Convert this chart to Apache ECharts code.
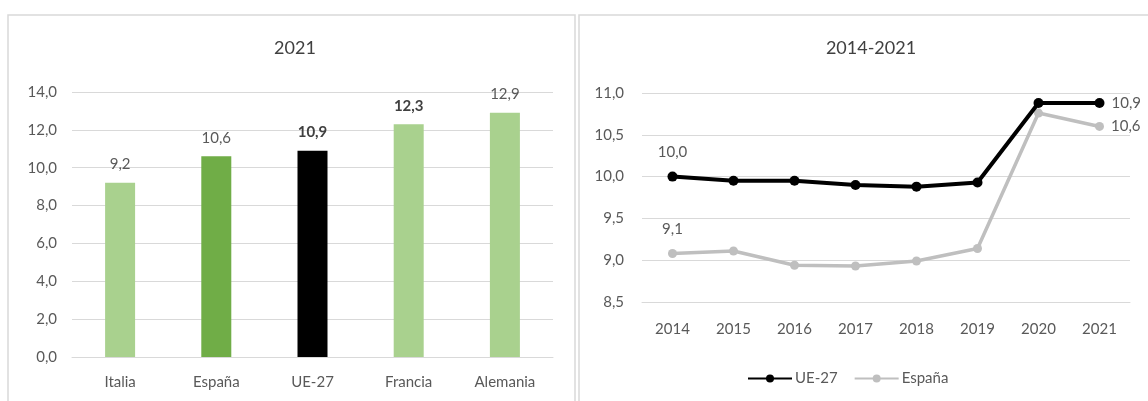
<!DOCTYPE html>
<html>
<head>
<meta charset="utf-8">
<script src="https://cdn.jsdelivr.net/npm/echarts@6/dist/echarts.min.js"></script>
<style>
  html, body { margin: 0; padding: 0; background: #fff; }
  #chart { width: 1148px; height: 401px; }
</style>
</head>
<body>
<div id="chart"></div>
<script>
  // datos del gráfico de barras (2021)
  var barCategories = ['Italia', 'España', 'UE-27', 'Francia', 'Alemania'];
  var barValues = [9.2, 10.6, 10.9, 12.3, 12.9];
  var barColors = ['#a9d18e', '#70ad47', '#000000', '#a9d18e', '#a9d18e'];
  var barBold = [false, false, true, true, false];

  // datos de la serie temporal (2014-2021)
  var years = ['2014', '2015', '2016', '2017', '2018', '2019', '2020', '2021'];
  var ue27 = [10.0, 9.95, 9.95, 9.9, 9.88, 9.93, 10.88, 10.88];
  var espana = [9.08, 9.11, 8.94, 8.93, 8.99, 9.14, 10.76, 10.6];

  var txt = '#595959';
  var font = 'Lato, "Noto Sans", sans-serif';
  var fs = 15;

  function coma(v) {
    return v.toFixed(1).replace('.', ',');
  }

  // solo se etiquetan el primer y el último punto
  function lineData(values) {
    return values.map(function (v, i) {
      var item = { value: v };
      if (i === 0) {
        item.label = { show: true, position: 'top', distance: 12 };
      } else if (i === values.length - 1) {
        item.label = { show: true, position: 'right', distance: 7 };
      }
      return item;
    });
  }

  var myChart = echarts.init(document.getElementById('chart'));

  var option = {
    animation: false,
    textStyle: { fontFamily: font, color: txt },
    graphic: [
      { type: 'rect', shape: { x: 8, y: 15, width: 567, height: 400 }, style: { fill: 'none', stroke: '#d9d9d9', lineWidth: 1.5 } },
      { type: 'rect', shape: { x: 579, y: 15, width: 580, height: 400 }, style: { fill: 'none', stroke: '#d9d9d9', lineWidth: 1.5 } }
    ],
    title: [
      { text: '2021', left: 290, top: 34, textAlign: 'center', textStyle: { fontFamily: font, fontSize: 18, fontWeight: 'normal', color: '#404040' } },
      { text: '2014-2021', left: 866, top: 34, textAlign: 'center', textStyle: { fontFamily: font, fontSize: 18, fontWeight: 'normal', color: '#404040' } }
    ],
    legend: {
      data: ['UE-27', 'España'],
      top: 366,
      left: 742,
      itemWidth: 44,
      itemHeight: 10,
      itemGap: 16,
      textStyle: { color: txt, fontSize: fs, fontFamily: font, padding: [0, 0, 0, -2] }
    },
    grid: [
      { left: 72, right: 595, top: 92, bottom: 44 },
      { left: 642, right: 18, top: 93, bottom: 99 }
    ],
    xAxis: [
      {
        gridIndex: 0,
        type: 'category',
        data: barCategories,
        axisLine: { lineStyle: { color: '#d9d9d9' } },
        axisTick: { show: false },
        axisLabel: { color: txt, fontSize: fs, margin: 18 }
      },
      {
        gridIndex: 1,
        type: 'category',
        data: years,
        axisLine: { lineStyle: { color: '#d9d9d9' } },
        axisTick: { show: false },
        axisLabel: { color: txt, fontSize: fs, margin: 20 }
      }
    ],
    yAxis: [
      {
        gridIndex: 0,
        type: 'value',
        min: 0,
        max: 14,
        interval: 2,
        axisLabel: { color: txt, fontSize: fs, margin: 15, formatter: coma },
        splitLine: { lineStyle: { color: '#d9d9d9' } }
      },
      {
        gridIndex: 1,
        type: 'value',
        min: 8.5,
        max: 11,
        interval: 0.5,
        axisLabel: { color: txt, fontSize: fs, margin: 18, formatter: coma },
        splitLine: { lineStyle: { color: '#d9d9d9' } }
      }
    ],
    series: [
      {
        name: '2021',
        type: 'bar',
        xAxisIndex: 0,
        yAxisIndex: 0,
        barWidth: 30,
        data: barValues.map(function (v, i) {
          return {
            value: v,
            itemStyle: { color: barColors[i] },
            label: { fontWeight: barBold[i] ? 'bold' : 'normal', color: barBold[i] ? '#404040' : txt }
          };
        }),
        label: {
          show: true,
          position: 'top',
          distance: 11,
          fontSize: fs,
          fontFamily: font,
          formatter: function (p) { return coma(p.value); }
        }
      },
      {
        name: 'UE-27',
        type: 'line',
        xAxisIndex: 1,
        yAxisIndex: 1,
        data: lineData(ue27),
        symbol: 'circle',
        symbolSize: 10,
        lineStyle: { color: '#000', width: 4 },
        itemStyle: { color: '#000' },
        label: { color: txt, fontSize: fs, fontFamily: font, formatter: function (p) { return coma(p.value); } },
        z: 3
      },
      {
        name: 'España',
        type: 'line',
        xAxisIndex: 1,
        yAxisIndex: 1,
        data: lineData(espana),
        symbol: 'circle',
        symbolSize: 9,
        lineStyle: { color: '#bfbfbf', width: 3.5 },
        itemStyle: { color: '#bfbfbf' },
        label: { color: txt, fontSize: fs, fontFamily: font, formatter: function (p) { return coma(p.value); } },
        z: 2
      }
    ]
  };

  myChart.setOption(option);

  window.addEventListener('resize', function () {
    myChart.resize();
  });
</script>
</body>
</html>
